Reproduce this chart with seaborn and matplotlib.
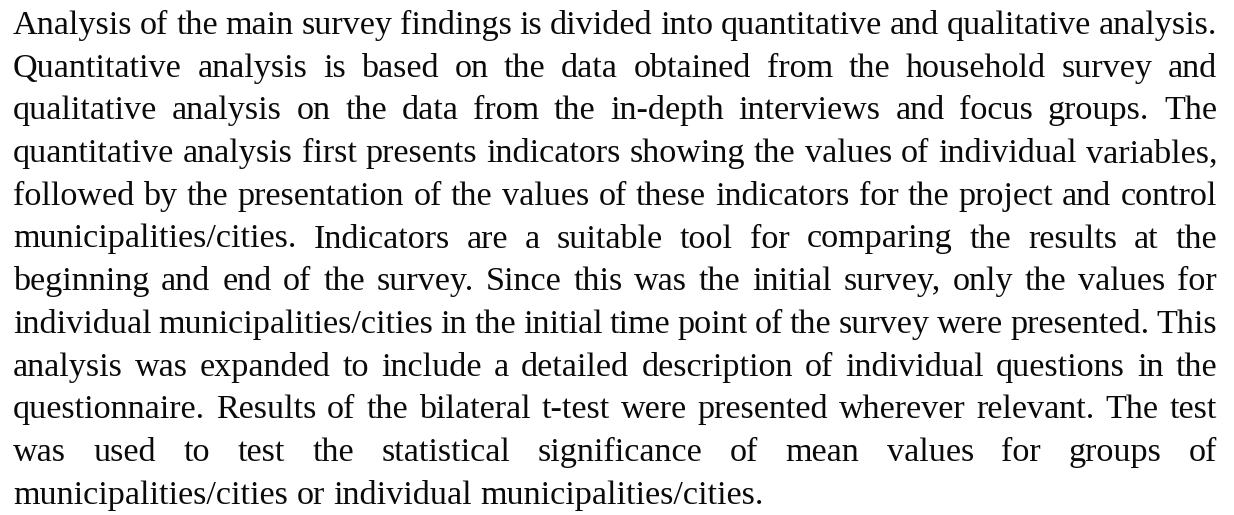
import matplotlib
matplotlib.use("Agg")
import matplotlib.pyplot as plt
import seaborn as sns
from matplotlib.font_manager import FontProperties

lines = [
    "Analysis of the main survey findings is divided into quantitative and qualitative analysis.",
    "Quantitative analysis is based on the data obtained from the household survey and",
    "qualitative analysis on the data from the in-depth interviews and focus groups. The",
    "quantitative analysis first presents indicators showing the values of individual variables,",
    "followed by the presentation of the values of these indicators for the project and control",
    "municipalities/cities. Indicators are a suitable tool for comparing the results at the",
    "beginning and end of the survey. Since this was the initial survey, only the values for",
    "individual municipalities/cities in the initial time point of the survey were presented. This",
    "analysis was expanded to include a detailed description of individual questions in the",
    "questionnaire. Results of the bilateral t-test were presented wherever relevant. The test",
    "was used to test the statistical significance of mean values for groups of",
    "municipalities/cities or individual municipalities/cities.",
]

sns.set_theme(style="white")
W, H, DPI = 1234, 515, 100
fig = plt.figure(figsize=(W / DPI, H / DPI), dpi=DPI)
fig.patch.set_facecolor("white")
ax = fig.add_axes([0, 0, 1, 1])
ax.set_xlim(0, W)
ax.set_ylim(H, 0)
ax.axis("off")

fp = FontProperties(family="Liberation Serif", size=24.6)
renderer = fig.canvas.get_renderer()

def width(s):
    w, h, d = renderer.get_text_width_height_descent(s, fp, ismath=False)
    return w

x0, x1 = 13, 1217
y0, dy = 34, 42.7
space_w = width("a a") - width("aa")
for i, line in enumerate(lines):
    words = line.split(" ")
    y = y0 + i * dy
    ws = [width(w) for w in words]
    if i < len(lines) - 1 and len(words) > 1:
        gap = (x1 - x0 - sum(ws)) / (len(words) - 1)
    else:
        gap = space_w
    x = x0
    for w, wd in zip(words, ws):
        ax.text(x, y, w, fontproperties=fp, ha="left", va="baseline", color="#0a0a0a")
        x += wd + gap

fig.savefig("out.png", dpi=DPI, facecolor="white")
